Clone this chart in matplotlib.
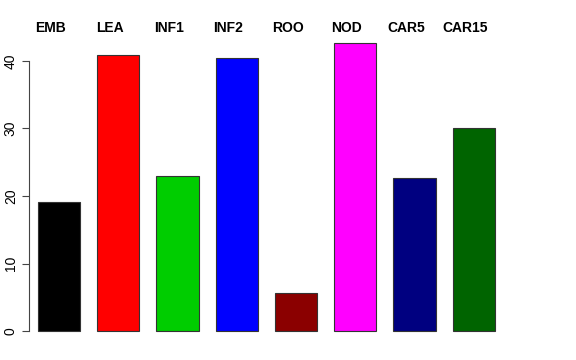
import matplotlib
matplotlib.use("Agg")
import matplotlib.pyplot as plt

# -----------------------------------------------------------------------------
# Data
# -----------------------------------------------------------------------------
samples = ["EMB", "LEA", "INF1", "INF2", "ROO", "NOD", "CAR5", "CAR15"]
values = [19.1, 40.9, 23.0, 40.4, 5.6, 42.7, 22.7, 30.1]
colors = ["#000000", "#FF0000", "#00CD00", "#0000FF",
          "#8B0000", "#FF00FF", "#000080", "#006400"]
yticks = [0, 10, 20, 30, 40]

# R-like barplot layout: width 1, space 0.4
xpos = [0.9 + 1.4 * i for i in range(len(samples))]

# -----------------------------------------------------------------------------
# Plot
# -----------------------------------------------------------------------------
plt.rcParams["font.family"] = ["Liberation Sans", "DejaVu Sans"]

W, H = 576, 360
fig = plt.figure(figsize=(W / 100, H / 100), dpi=100)
left, right, bottom, top = 29, 514, 331, 20
ax = fig.add_axes([left / W, 1 - bottom / H, (right - left) / W, (bottom - top) / H])

ax.bar(xpos, values, width=1.0, color=colors, edgecolor="#333333",
       linewidth=0.8, clip_on=False)

ax.set_xlim(0.192, 11.648)
ax.set_ylim(0, (bottom - top) / 6.75)

for s in ("top", "right", "bottom"):
    ax.spines[s].set_visible(False)
ax.spines["left"].set_bounds(0, 40)
ax.spines["left"].set_linewidth(0.8)
ax.spines["left"].set_color("#444444")
ax.set_xticks([])
ax.set_yticks(yticks)
ax.set_yticklabels([str(t) for t in yticks], rotation=90, va="center",
                   fontsize=10)
ax.tick_params(axis="y", direction="out", length=5, width=0.8,
               color="#444444", pad=3)

# sample names above the bars
for x, name in zip(xpos, samples):
    ax.annotate(name, xy=(x, 0), xycoords=("data", "figure fraction"),
                xytext=(-6, (H - 28) * 0.72), textcoords="offset points",
                ha="center", va="center", fontsize=10, fontweight="bold")

fig.savefig("out.png", dpi=100)
